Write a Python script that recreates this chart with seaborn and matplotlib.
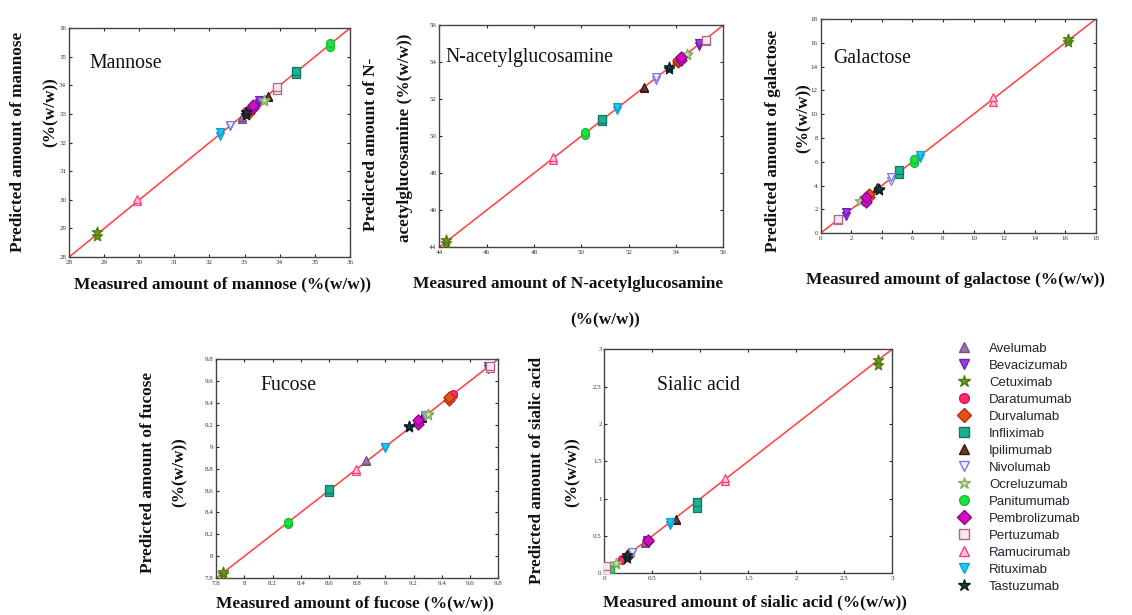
import matplotlib
matplotlib.use("Agg")
import matplotlib.pyplot as plt
from matplotlib.lines import Line2D
import numpy as np
import pandas as pd
import seaborn as sns

sns.set_style("ticks")
plt.rcParams["font.family"] = ["Liberation Serif", "DejaVu Serif"]

antibodies = ["Avelumab", "Bevacizumab", "Cetuximab", "Daratumumab", "Durvalumab",
              "Infliximab", "Ipilimumab", "Nivolumab", "Ocreluzumab", "Panitumumab",
              "Pembrolizumab", "Pertuzumab", "Ramucirumab", "Rituximab", "Tastuzumab"]

markers = ["^", "v", "*", "o", "D", "s", "^", "v", "*", "o", "D", "s", "^", "v", "*"]
face_colors = ["#a070a8", "#9a40e0", "#6a9a20", "#ff2a6a", "#e8501a",
               "#20b090", "#6a3a30", "#eeeefc", "#c8e4a8", "#20e040",
               "#d010c0", "#f8e8ee", "#ffc8d8", "#20c8f0", "#1a3a40"]
edge_colors = ["#7a4f85", "#7020b0", "#4f7a10", "#e01050", "#b03010",
               "#107a60", "#3a1a15", "#7a7ae0", "#80b060", "#10c030",
               "#900090", "#b06880", "#ff4080", "#10a0d0", "#0a2025"]

# Measured and predicted (two replicate predictions) amounts, %(w/w)
mannose_measured = [32.92, 33.42, 28.80, 33.05, 33.12, 34.47, 33.68, 32.60, 33.56, 35.44, 33.25, 33.93, 29.95, 32.30, 33.03]
mannose_pred_a = [32.82, 33.38, 28.75, 33.00, 33.05, 34.40, 33.60, 32.60, 33.45, 35.35, 33.20, 33.85, 29.97, 32.22, 32.98]
mannose_pred_b = [32.90, 33.50, 28.88, 33.10, 33.15, 34.52, 33.62, 32.62, 33.48, 35.48, 33.32, 33.95, 30.02, 32.36, 33.08]

nag_measured = [54.10, 54.97, 44.30, 54.20, 54.10, 50.88, 52.65, 53.15, 54.45, 50.15, 54.20, 55.25, 48.80, 51.50, 53.72]
nag_pred_a = [54.05, 54.88, 44.25, 54.15, 54.00, 50.82, 52.62, 53.05, 54.38, 50.08, 54.12, 55.15, 48.72, 51.42, 53.65]
nag_pred_b = [54.15, 55.02, 44.38, 54.25, 54.12, 50.95, 52.68, 53.20, 54.42, 50.22, 54.28, 55.18, 48.85, 51.58, 53.75]

gal_measured = [2.95, 1.68, 16.20, 3.05, 3.15, 5.13, 3.70, 4.60, 2.55, 6.08, 2.98, 1.10, 11.25, 6.53, 3.82]
gal_pred_a = [2.90, 1.45, 16.05, 2.95, 3.05, 4.95, 3.75, 4.40, 2.68, 5.90, 2.65, 1.12, 11.05, 6.30, 3.60]
gal_pred_b = [3.00, 1.78, 16.35, 3.10, 3.25, 5.28, 3.90, 4.75, 2.72, 6.20, 3.00, 1.18, 11.45, 6.60, 3.68]

fuc_measured = [8.86, 9.73, 7.85, 9.48, 9.45, 8.60, 9.26, 9.28, 9.30, 8.31, 9.23, 9.74, 8.79, 9.00, 9.17]
fuc_pred_a = [8.87, 9.71, 7.84, 9.47, 9.43, 8.59, 9.26, 9.28, 9.29, 8.29, 9.21, 9.72, 8.78, 8.99, 9.18]
fuc_pred_b = [8.88, 9.74, 7.86, 9.48, 9.45, 8.61, 9.27, 9.29, 9.30, 8.31, 9.24, 9.74, 8.80, 9.00, 9.19]

sia_measured = [0.42, 0.44, 2.85, 0.18, 0.25, 0.97, 0.75, 0.29, 0.12, 0.06, 0.45, 0.02, 1.26, 0.68, 0.24]
sia_pred_a = [0.40, 0.42, 2.79, 0.18, 0.23, 0.88, 0.71, 0.27, 0.12, 0.03, 0.43, 0.03, 1.24, 0.65, 0.21]
sia_pred_b = [0.42, 0.45, 2.86, 0.19, 0.25, 0.95, 0.72, 0.28, 0.13, 0.06, 0.45, 0.10, 1.28, 0.68, 0.24]

panels = [
    dict(name="Mannose", meas=mannose_measured, pa=mannose_pred_a, pb=mannose_pred_b,
         lim=(28, 36), step=1, rect=[0.061, 0.582, 0.248, 0.372], title_xy=(0.071, 0.847)),
    dict(name="N-acetylglucosamine", meas=nag_measured, pa=nag_pred_a, pb=nag_pred_b,
         lim=(44, 56), step=2, rect=[0.388, 0.598, 0.251, 0.361], title_xy=(0.021, 0.856)),
    dict(name="Galactose", meas=gal_measured, pa=gal_pred_a, pb=gal_pred_b,
         lim=(0, 18), step=2, rect=[0.725, 0.621, 0.243, 0.348], title_xy=(0.047, 0.818)),
    dict(name="Fucose", meas=fuc_measured, pa=fuc_pred_a, pb=fuc_pred_b,
         lim=(7.8, 9.8), step=0.2, rect=[0.191, 0.060, 0.249, 0.356], title_xy=(0.156, 0.881)),
    dict(name="Sialic acid", meas=sia_measured, pa=sia_pred_a, pb=sia_pred_b,
         lim=(0, 3), step=0.5, rect=[0.534, 0.068, 0.254, 0.364], title_xy=(0.184, 0.840)),
]

fig = plt.figure(figsize=(11.32, 6.15), dpi=100)

def tick_fmt(v):
    s = f"{v:.1f}"
    return s[:-2] if s.endswith(".0") else s

for p in panels:
    ax = fig.add_axes(p["rect"])
    lo, hi = p["lim"]
    ax.axline((lo, lo), slope=1, color="#ff4a4a", lw=1.2, zorder=1)
    df = pd.DataFrame({
        "antibody": antibodies * 2,
        "measured": list(p["meas"]) * 2,
        "predicted": list(p["pa"]) + list(p["pb"]),
    })
    for i, ab in enumerate(antibodies):
        sub = df[df["antibody"] == ab]
        sns.scatterplot(data=sub, x="measured", y="predicted", ax=ax,
                        marker=markers[i], color=face_colors[i],
                        edgecolor=edge_colors[i], linewidth=0.9,
                        s=60 if markers[i] == "*" else 32, zorder=3, legend=False)
    ticks = np.arange(lo, hi + p["step"] / 2, p["step"])
    ax.set_xlim(lo, hi)
    ax.set_ylim(lo, hi)
    ax.set_xticks(ticks)
    ax.set_yticks(ticks)
    ax.set_xticklabels([tick_fmt(t) for t in ticks])
    ax.set_yticklabels([tick_fmt(t) for t in ticks])
    ax.tick_params(direction="in", length=2.5, width=0.8, labelsize=5,
                   labelcolor="#333333", top=True, right=True, pad=2)
    ax.set_xlabel("")
    ax.set_ylabel("")
    for sp in ax.spines.values():
        sp.set_linewidth(1.0)
        sp.set_color("#444444")
    ax.text(p["title_xy"][0], p["title_xy"][1], p["name"], transform=ax.transAxes,
            fontsize=14.2, color="#111111", ha="left", va="center")

W, H = 1132, 615
def ftext(x, y, s, rot=0, **kw):
    fig.text(x / W, 1 - y / H, s, rotation=rot, ha="center", va="center",
             fontsize=12.4, fontweight="bold", color="#111111", **kw)

# Axis titles
ftext(18, 142, "Predicted amount of mannose", 90)
ftext(51, 112, "(%(w/w))", 90)
ftext(222, 284, "Measured amount of mannose (%(w/w))")

ftext(371, 144, "Predicted amount of N-", 90)
ftext(405, 138, "acetylglucosamine (%(w/w))", 90)
ftext(568, 284, "Measured amount of N-acetylglucosamine")
ftext(605, 320, "(%(w/w))")

ftext(773, 141, "Predicted amount of galactose", 90)
ftext(804, 118, "(%(w/w))", 90)
ftext(955, 280, "Measured amount of galactose (%(w/w))")

ftext(148, 472, "Predicted amount of fucose", 90)
ftext(180, 472, "(%(w/w))", 90)
ftext(355, 603, "Measured amount of fucose (%(w/w))")

ftext(537, 470, "Predicted amount of sialic acid", 90)
ftext(573, 472, "(%(w/w))", 90)
ftext(755, 602, "Measured amount of sialic acid (%(w/w))")

# Shared legend of antibodies
handles = [Line2D([], [], linestyle="none", marker=markers[i],
                  markerfacecolor=face_colors[i], markeredgecolor=edge_colors[i],
                  markeredgewidth=1.0, markersize=9 if markers[i] == "*" else 7)
           for i in range(len(antibodies))]
fig.legend(handles, antibodies, loc="upper left",
           bbox_to_anchor=(948 / W, 1 - 336 / H), frameon=False,
           prop={"family": "Liberation Sans", "size": 9.5}, labelspacing=0.36,
           handletextpad=1.1, handlelength=1.5, borderpad=0, labelcolor="#222233")

fig.savefig("out.png", dpi=100, facecolor="white")
